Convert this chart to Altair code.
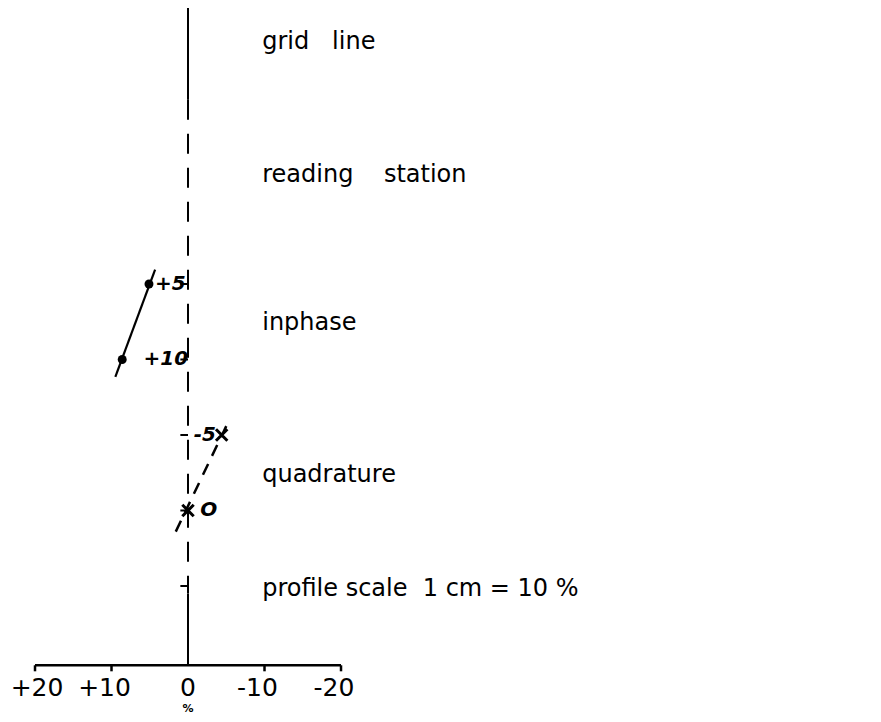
import altair as alt
import pandas as pd

# ---- data ----
# profile scale (percent), left = positive
scale_ticks = [20, 10, 0, -10, -20]
scale_labels = ["+20", "+10", "0", "-10", "-20"]

# reading stations along the grid line (station index, top -> bottom)
stations = [0, 1, 2, 3, 4]

# inphase readings (%)
inphase_station = [0, 1]
inphase_value = [5.1, 8.6]
inphase_line_station = [-0.19, 1.23]
inphase_line_value = [4.3, 9.5]

# quadrature readings (%)
quad_station = [2, 3]
quad_value = [-4.4, 0.0]
quad_line_station = [1.84, 3.28]
quad_line_value = [-5.2, 1.6]

# small labels next to the readings
point_labels = ["+5", "+10", "-5", "O"]
point_label_station = [0, 1, 2, 3]
point_label_value = [2.3, 2.9, -2.2, -2.7]

NB = "\u00a0"
legend_labels = [
    "grid" + NB * 3 + "line",
    "reading" + NB * 4 + "station",
    "inphase",
    "quadrature",
    "profile scale" + NB * 2 + "1 cm = 10 %",
]
legend_station = [-3.2, -1.44, 0.52, 2.53, 4.04]
legend_value = -9.7

axis_station = 5.05
axis_label_station = 5.35
unit_station = 5.69

FONT = "DejaVu Sans"

xs = alt.Scale(domain=[-89.54, 23.53], reverse=True, zero=False, nice=False)
ys = alt.Scale(domain=[-3.6556, 5.6954], reverse=True, zero=False, nice=False)

X = lambda f="v": alt.X(f"{f}:Q", scale=xs, axis=None)
Y = lambda f="s": alt.Y(f"{f}:Q", scale=ys, axis=None)

# grid line pieces
grid_solid = pd.DataFrame({"v": [0, 0], "s": [-3.66, 4.1], "s2": [-2.44, axis_station]})
grid_dash = pd.DataFrame({"v": [0], "s": [-2.44], "s2": [4.1]})

g1 = alt.Chart(grid_solid).mark_rule(color="black", strokeWidth=2).encode(
    x=X(), y=Y(), y2="s2:Q")
g2 = alt.Chart(grid_dash).mark_rule(color="black", strokeWidth=2, strokeDash=[20, 14]).encode(
    x=X(), y=Y(), y2="s2:Q")

# station ticks
st_df = pd.DataFrame({"s": stations, "v": [1.0] * len(stations), "v2": [0.0] * len(stations)})
st = alt.Chart(st_df).mark_rule(color="black", strokeWidth=2).encode(
    x=X(), x2="v2:Q", y=Y())

# inphase line + points
in_line = alt.Chart(pd.DataFrame({"v": inphase_line_value, "s": inphase_line_station})).mark_line(
    color="black", strokeWidth=2.2).encode(x=X(), y=Y())
in_pts = alt.Chart(pd.DataFrame({"v": inphase_value, "s": inphase_station})).mark_point(
    shape="circle", filled=True, color="black", size=80, opacity=1).encode(x=X(), y=Y())

# quadrature line + points
q_line = alt.Chart(pd.DataFrame({"v": quad_line_value, "s": quad_line_station})).mark_line(
    color="black", strokeWidth=2.5, strokeDash=[12, 9]).encode(x=X(), y=Y())
q_pts = alt.Chart(pd.DataFrame({"v": quad_value, "s": quad_station})).mark_point(
    shape="M-1,-1L1,1M1,-1L-1,1", filled=False, color="black", size=130,
    strokeWidth=3, opacity=1).encode(x=X(), y=Y())

# point labels
pl = alt.Chart(pd.DataFrame({"v": point_label_value, "s": point_label_station, "t": point_labels})).mark_text(
    font=FONT, fontSize=20, fontStyle="italic", fontWeight="bold", color="black",
    align="center", baseline="middle").encode(x=X(), y=Y(), text="t:N")

# legend text
lt = alt.Chart(pd.DataFrame({"v": [legend_value] * len(legend_labels), "s": legend_station,
                             "t": legend_labels})).mark_text(
    font=FONT, fontSize=24, color="black", align="left", baseline="middle").encode(
    x=X(), y=Y(), text="t:N")

# scale axis
ax_line = alt.Chart(pd.DataFrame({"v": [scale_ticks[0]], "v2": [scale_ticks[-1]], "s": [axis_station]})).mark_rule(
    color="black", strokeWidth=2.5).encode(x=X(), x2="v2:Q", y=Y())
tk = [t for t in scale_ticks if t != 0]
ax_ticks = alt.Chart(pd.DataFrame({"v": tk, "s": [axis_station] * len(tk),
                                   "s2": [axis_station + 0.08] * len(tk)})).mark_rule(
    color="black", strokeWidth=2.5).encode(x=X(), y=Y(), y2="s2:Q")
lab_df = pd.DataFrame({"v": scale_ticks, "t": scale_labels,
                       "s": [axis_label_station] * len(scale_ticks)})
ax_lab = alt.Chart(lab_df[(lab_df.v != 0) & (lab_df.v != 20)]).mark_text(
    font=FONT, fontSize=25, color="black", align="center", baseline="middle", dx=-7).encode(
    x=X(), y=Y(), text="t:N")
ax_lab_edge = alt.Chart(lab_df[lab_df.v == 20]).mark_text(
    font=FONT, fontSize=25, color="black", align="center", baseline="middle", dx=2).encode(
    x=X(), y=Y(), text="t:N")
ax_lab0 = alt.Chart(lab_df[lab_df.v == 0]).mark_text(
    font=FONT, fontSize=25, color="black", align="center", baseline="middle").encode(
    x=X(), y=Y(), text="t:N")
unit = alt.Chart(pd.DataFrame({"v": [0], "s": [unit_station], "t": ["%"]})).mark_text(
    font=FONT, fontSize=11, fontWeight="bold", color="black", align="center", baseline="bottom").encode(
    x=X(), y=Y(), text="t:N")

chart = alt.layer(g1, g2, st, in_line, in_pts, q_line, q_pts, pl, lt,
                  ax_line, ax_ticks, ax_lab, ax_lab_edge, ax_lab0, unit).properties(
    width=865, height=706, padding=0, autosize="none", background="white"
).configure_view(stroke=None)

chart.save("out.html", embed_options={"renderer": "svg", "actions": False})
